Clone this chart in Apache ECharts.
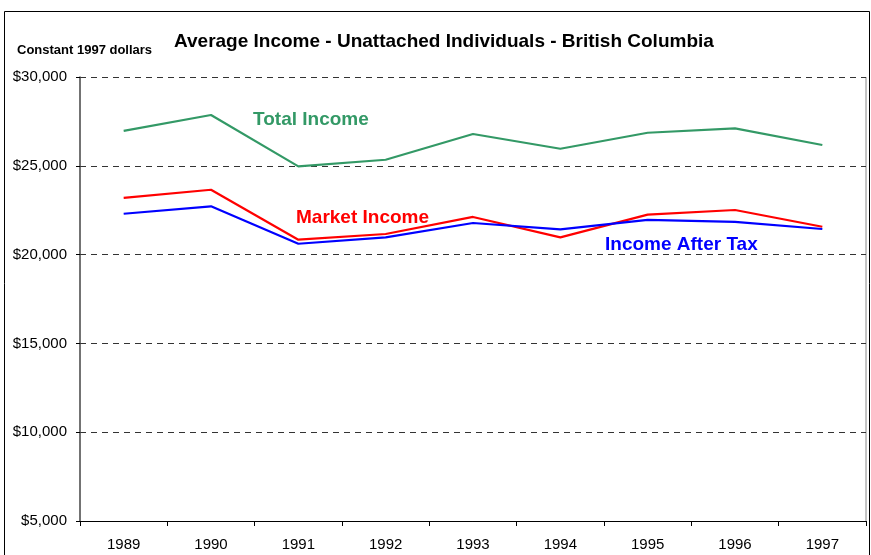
<!DOCTYPE html>
<html><head><meta charset="utf-8">
<script src="https://cdn.jsdelivr.net/npm/echarts@6/dist/echarts.min.js"></script>
<style>html,body{margin:0;padding:0;background:#fff}#c{width:871px;height:555px}</style>
</head><body><div id="c"></div>
<script>
var years = ['1989','1990','1991','1992','1993','1994','1995','1996','1997'];
var totalIncome = [26970, 27860, 24970, 25340, 26790, 25960, 26860, 27110, 26170];
var marketIncome = [23190, 23650, 20840, 21160, 22120, 20970, 22250, 22510, 21570];
var afterTax = [22300, 22720, 20610, 20970, 21780, 21420, 21960, 21840, 21440];
var yTicks = [5000, 10000, 15000, 20000, 25000, 30000];

var chart = echarts.init(document.getElementById('c'), null, {renderer: 'canvas'});
var F = 'Arial, "Liberation Sans", sans-serif';
chart.setOption({
  animation: false,
  backgroundColor: '#fff',
  grid: {left: 80, right: 5, top: 77, bottom: 34},
  xAxis: {
    type: 'category', data: years, boundaryGap: true,
    axisLine: {lineStyle: {color: '#000', width: 1}},
    axisTick: {show: true, length: 5, lineStyle: {color: '#000'}},
    axisLabel: {color: '#000', fontFamily: F, fontSize: 15, margin: 16}
  },
  yAxis: {
    type: 'value', min: yTicks[0], max: yTicks[yTicks.length-1], interval: 5000,
    axisLine: {show: true, lineStyle: {color: '#444', width: 1.5}},
    axisTick: {show: true, length: 4, lineStyle: {color: '#000'}},
    axisLabel: {color: '#000', fontFamily: F, fontSize: 15, margin: 13,
      formatter: function(v){ return '$' + v.toLocaleString('en-US'); }},
    splitLine: {show: true, lineStyle: {color: '#333', type: [6, 5], width: 1}}
  },
  series: [
    {name: 'Total Income', type: 'line', data: totalIncome, symbol: 'none',
     lineStyle: {color: '#339966', width: 2.2}},
    {name: 'Market Income', type: 'line', data: marketIncome, symbol: 'none',
     lineStyle: {color: '#ff0000', width: 2.2}},
    {name: 'Income After Tax', type: 'line', data: afterTax, symbol: 'none',
     lineStyle: {color: '#0000ff', width: 2.2}}
  ],
  graphic: [
    {type: 'rect', shape: {x: 4.5, y: 11.5, width: 865, height: 560}, silent: true,
     style: {fill: null, stroke: '#000', lineWidth: 1}, z: -1},
    {type: 'line', shape: {x1: 866, y1: 77, x2: 866, y2: 521},
     style: {stroke: '#888', lineWidth: 1}},
    {type: 'text', left: 174, top: 32,
     style: {text: 'Average Income - Unattached Individuals - British Columbia',
       font: 'bold 19px ' + F, fill: '#000'}},
    {type: 'text', left: 17, top: 44,
     style: {text: 'Constant 1997 dollars', font: 'bold 13px ' + F, fill: '#000'}},
    {type: 'text', left: 253, top: 110,
     style: {text: 'Total Income', font: 'bold 19px ' + F, fill: '#339966'}},
    {type: 'text', left: 296, top: 208,
     style: {text: 'Market Income', font: 'bold 19px ' + F, fill: '#ff0000'}},
    {type: 'text', left: 605, top: 235,
     style: {text: 'Income After Tax', font: 'bold 19px ' + F, fill: '#0000ff'}}
  ]
});
</script></body></html>
